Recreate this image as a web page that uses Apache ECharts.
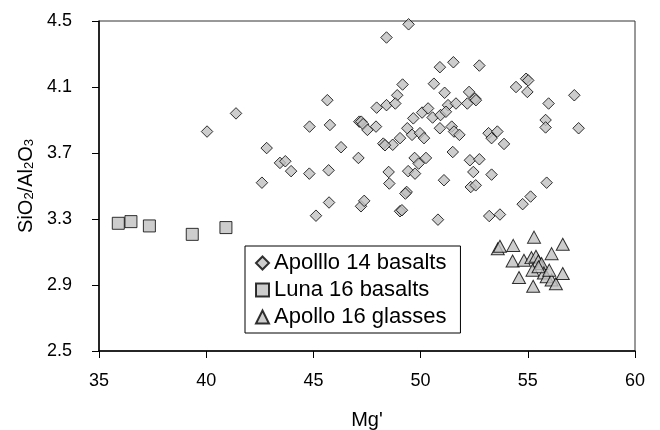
<!DOCTYPE html>
<html>
<head>
<meta charset="utf-8">
<script src="https://cdn.jsdelivr.net/npm/echarts@6/dist/echarts.min.js"></script>
<style>
  html,body{margin:0;padding:0;background:#fff;}
  #chart{width:660px;height:430px;}
</style>
</head>
<body>
<div id="chart"></div>
<script>
// values: [Mg', SiO2/Al2O3]
const apollo14 = [
  [40.04,3.83],[41.39,3.94],[42.82,3.73],[43.44,3.64],[43.69,3.65],[43.96,3.59],[44.81,3.575],[42.6,3.52],
  [45.12,3.32],[44.82,3.86],[45.71,3.595],[45.77,3.87],[46.29,3.735],[45.65,4.02],[47.14,3.89],[47.1,3.67],
  [49.44,4.48],[48.41,4.40],[50.9,4.22],[51.53,4.25],[49.16,4.115],[50.62,4.12],[51.12,4.065],[48.91,4.05],
  [47.95,3.975],[48.41,3.99],[48.82,4.0],[51.28,3.99],[51.65,4.0],[47.23,3.89],[47.32,3.875],[47.92,3.86],
  [49.66,3.91],[50.07,3.945],[50.35,3.97],[50.56,3.915],[50.93,3.93],[51.18,3.95],[50.9,3.85],[51.45,3.86],
  [52.74,4.23],[52.26,4.07],[52.54,4.03],[54.45,4.10],[54.92,4.15],[55.02,4.14],[54.98,4.07],[57.17,4.05],
  [55.97,4.0],[55.83,3.90],[55.83,3.855],[57.37,3.85],[52.18,4.0],[52.58,4.02],[47.52,3.84],[48.26,3.757],
  [48.7,3.75],[49.04,3.79],[49.38,3.85],[49.6,3.81],[49.97,3.82],[50.16,3.79],[51.56,3.83],[51.81,3.81],
  [53.17,3.82],[53.31,3.79],[53.58,3.83],[53.89,3.755],[49.72,3.67],[50.25,3.67],[49.91,3.636],[51.5,3.706],
  [52.3,3.656],[52.74,3.662],[52.46,3.585],[53.31,3.569],[48.51,3.585],[49.42,3.59],[49.74,3.575],[51.09,3.535],
  [55.88,3.52],[48.54,3.515],[49.35,3.464],[49.29,3.454],[45.73,3.40],[47.22,3.377],[47.37,3.41],[49.04,3.347],
  [49.13,3.353],[50.81,3.296],[48.34,3.747],[52.34,3.494],[52.57,3.504],[54.76,3.39],[55.13,3.436],[53.2,3.318],
  [53.7,3.327]
];
const luna16 = [
  [35.9,3.274],[36.49,3.284],[37.35,3.258],[39.35,3.207],[40.92,3.248]
];
const apollo16 = [
  [53.6,3.12],[53.7,3.135],[54.32,3.14],[55.29,3.19],[56.63,3.147],[56.11,3.09],[54.29,3.045],[54.82,3.05],
  [55.17,3.066],[55.38,3.074],[55.49,3.045],[55.64,3.03],[55.22,2.99],[55.75,2.973],[55.88,2.95],[54.59,2.945],
  [56.11,2.93],[56.31,2.908],[56.63,2.97],[55.25,2.892],[55.5,3.01],[56.0,2.99]
];
const seriesNames = ['Apolllo 14 basalts','Luna 16 basalts','Apollo 16 glasses'];
const xTicks = {min:35, max:60, step:5};
const yTicks = {min:2.5, max:4.5, step:0.4};

const font = '"Liberation Sans", Arial, sans-serif';
const markStyle = {color:'#c0c0c0', borderColor:'#000', borderWidth:1};

let chart = echarts.init(document.getElementById('chart'));
chart.setOption({
  animation:false,
  textStyle:{fontFamily:font},
  grid:{left:99, right:25, top:21, bottom:79, outerBoundsMode:'none', show:true, borderColor:'#333', borderWidth:1, backgroundColor:'transparent'},
  xAxis:{
    type:'value', min:xTicks.min, max:xTicks.max, interval:xTicks.step,
    name:"Mg'", nameLocation:'middle', nameGap:59,
    nameTextStyle:{fontSize:20, color:'#000', fontFamily:font},
    axisLine:{show:true, onZero:false, lineStyle:{color:'#000', width:1.5}},
    axisTick:{show:true, length:7, lineStyle:{color:'#000'}},
    axisLabel:{fontSize:18, color:'#000', margin:21, fontFamily:font},
    splitLine:{show:false}
  },
  yAxis:{
    type:'value', min:yTicks.min, max:yTicks.max, interval:yTicks.step,
    name:'{a|SiO}{s|2}{a|/Al}{s|2}{a|O}{s|3}', nameLocation:'middle', nameGap:63, nameRotate:90,
    nameTextStyle:{
      rich:{
        a:{fontSize:20, color:'#000', fontFamily:font, lineHeight:24, verticalAlign:'bottom'},
        s:{fontSize:13, color:'#000', fontFamily:font, lineHeight:24, verticalAlign:'bottom', padding:[7,0,0,0]}
      }
    },
    axisLine:{show:true, onZero:false, lineStyle:{color:'#000', width:1.5}},
    axisTick:{show:true, length:7, lineStyle:{color:'#000'}},
    axisLabel:{fontSize:18, color:'#000', margin:27, fontFamily:font, formatter:function(v){return v.toFixed(1);}},
    splitLine:{show:false}
  },
  legend:{
    orient:'vertical', left:245, top:246,
    backgroundColor:'#fff', borderColor:'#000', borderWidth:1,
    padding:[6,14,5,10], itemGap:5, itemWidth:13, itemHeight:13,
    textStyle:{fontSize:22, color:'#000', fontFamily:font},
    data:seriesNames
  },
  series:[
    {name:seriesNames[0], type:'scatter', symbol:'diamond', symbolSize:[11.5,11.5], data:apollo14, itemStyle:markStyle},
    {name:seriesNames[1], type:'scatter', symbol:'rect', symbolSize:12, data:luna16, itemStyle:markStyle},
    {name:seriesNames[2], type:'scatter', symbol:'triangle', symbolSize:[13,12], data:apollo16, itemStyle:markStyle}
  ]
});
</script>
</body>
</html>
